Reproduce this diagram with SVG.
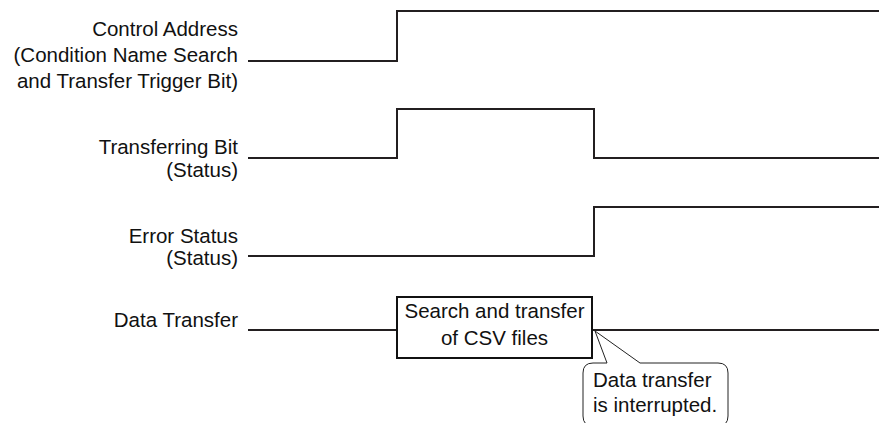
<svg xmlns="http://www.w3.org/2000/svg" width="879" height="423" viewBox="0 0 879 423">
<style>
text{font-family:"Liberation Sans",Arial,sans-serif;font-size:20.5px;fill:#111}
.lbl{text-anchor:end}
.wave{fill:none;stroke:#231f20;stroke-width:2;stroke-linejoin:miter}
.box{fill:#fff;stroke:#111;stroke-width:2}
.call{fill:#fff;stroke:#222;stroke-width:1}
</style>
<rect width="879" height="423" fill="#fff"/>
<g id="label-control">
<text class="lbl" x="238" y="36">Control Address</text>
<text class="lbl" x="238" y="62">(Condition Name Search</text>
<text class="lbl" x="238" y="88">and Transfer Trigger Bit)</text>
</g>
<g id="label-transferring">
<text class="lbl" x="238" y="154">Transferring Bit</text>
<text class="lbl" x="238" y="177">(Status)</text>
</g>
<g id="label-error">
<text class="lbl" x="238" y="243">Error Status</text>
<text class="lbl" x="238" y="265">(Status)</text>
</g>
<g id="label-data">
<text class="lbl" x="238" y="327">Data Transfer</text>
</g>
<g id="connectors">
<polyline class="wave" points="248,61 397,61 397,11 879,11"/>
<polyline class="wave" points="248,158 397,158 397,109 594,109 594,158 879,158"/>
<polyline class="wave" points="248,256 594,256 594,207 879,207"/>
<line class="wave" x1="248" y1="330" x2="397" y2="330"/>
<line class="wave" x1="592" y1="330" x2="879" y2="330"/>
</g>
<g id="box-search">
<rect class="box" x="397" y="297" width="195" height="61"/>
<text x="494.5" y="318" text-anchor="middle">Search and transfer</text>
<text x="494.5" y="345" text-anchor="middle">of CSV files</text>
</g>
<g id="callout">
<path class="call" d="M607,363 L595,331 L640,363 L718,363 Q728,363 728,373 L728,416 Q728,426 718,426 L593,426 Q583,426 583,416 L583,373 Q583,363 593,363 Z"/>
<text x="593" y="387">Data transfer</text>
<text x="593" y="412">is interrupted.</text>
</g>
</svg>
